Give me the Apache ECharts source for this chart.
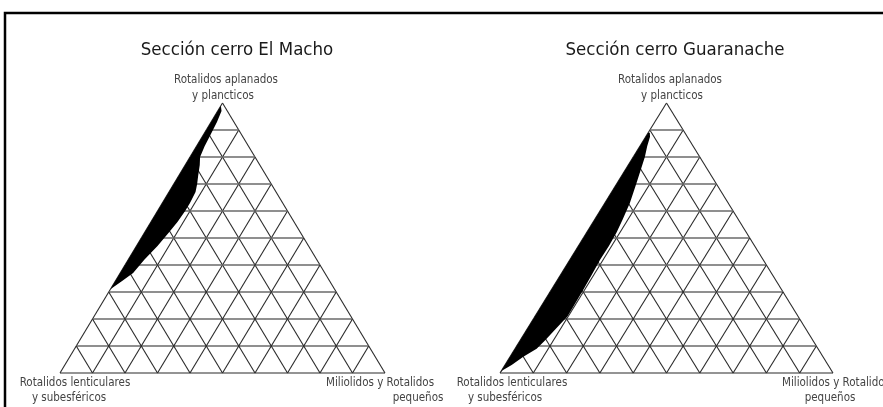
<!DOCTYPE html>
<html>
<head>
<meta charset="utf-8">
<script src="https://cdn.jsdelivr.net/npm/echarts@6/dist/echarts.min.js"></script>
<style>
  html, body { margin: 0; padding: 0; background: #fff; }
  #chart { width: 883px; height: 407px; }
</style>
</head>
<body>
<div id="chart"></div>
<script>
// ternary points are [A, B, C] in percent
// A = Rotalidos aplanados y plancticos (top)
// B = Rotalidos lenticulares y subesfericos (bottom left)
// C = Miliolidos y Rotalidos pequeños (bottom right)
var ticks = [0, 10, 20, 30, 40, 50, 60, 70, 80, 90];

var titles = ['Sección cerro El Macho', 'Sección cerro Guaranache'];

var machoArea = [
  [99, 1, 0], [31, 69, 0], [34, 64, 2], [37, 59, 4], [42, 53, 5],
  [47, 46.5, 6.5], [52, 40.5, 7.5], [56, 35.8, 8.2], [60, 31.5, 8.5],
  [63, 28.5, 8.5], [67, 24.8, 8.2], [70, 22.8, 7.2], [73, 21, 6],
  [77, 18.5, 4.5], [80, 16.9, 3.1], [84, 13.5, 2.5], [88, 9.8, 2.2],
  [93, 5.2, 1.8], [97, 1.8, 1.2]
];

var guaranacheArea = [
  [89, 11, 0], [0, 100, 0], [1, 98.7, 0.3], [3, 95, 2], [6, 90, 4],
  [9, 84.5, 6.5], [12, 80.5, 7.5], [16, 75.5, 8.5], [21, 69.2, 9.8],
  [26, 64.3, 9.7], [31, 59.4, 9.6], [36, 54.6, 9.4], [42, 48.9, 9.1],
  [47, 43.8, 9.2], [52, 39, 9], [57, 34.6, 8.4], [63, 29.5, 7.5],
  [67, 26.4, 6.6], [70, 24.1, 5.9], [75, 20.3, 4.7], [80, 16.5, 3.5],
  [84, 13.8, 2.2], [87.5, 11.2, 1.3], [89, 10.5, 0.5]
];

function toXY(p) {
  var s = p[0] + p[1] + p[2];
  var a = p[0] / s * 100, c = p[2] / s * 100;
  return [c + a / 2, a];
}

function gridLines() {
  var out = [];
  ticks.forEach(function (t) {
    var h1 = toXY([t, 100 - t, 0]), h2 = toXY([t, 0, 100 - t]);
    out.push({ value: [h1[0], h1[1], h2[0], h2[1]] });
    var c1 = toXY([0, 100 - t, t]), c2 = toXY([100 - t, 0, t]);
    out.push({ value: [c1[0], c1[1], c2[0], c2[1]] });
    var b1 = toXY([0, t, 100 - t]), b2 = toXY([100 - t, t, 0]);
    out.push({ value: [b1[0], b1[1], b2[0], b2[1]] });
  });
  return out;
}

function lineItem(params, api) {
  var p1 = api.coord([api.value(0), api.value(1)]);
  var p2 = api.coord([api.value(2), api.value(3)]);
  var horiz = Math.abs(p1[1] - p2[1]) < 0.5 && api.value(1) > 0;
  return {
    type: 'line',
    shape: { x1: p1[0], y1: p1[1], x2: p2[0], y2: p2[1] },
    style: { stroke: horiz ? '#6a6a6a' : '#2a2a2a', lineWidth: horiz ? 1.5 : 1.1 }
  };
}

function areaItem(points) {
  return function (params, api) {
    if (params.dataIndex !== 0) return null;
    var pts = points.map(function (p) { return api.coord(toXY(p)); });
    return { type: 'polygon', shape: { points: pts }, style: { fill: '#000' } };
  };
}

var font = '"Liberation Sans Narrow", "DejaVu Sans Condensed", sans-serif';
var lines = gridLines();

function label(text, x, y) {
  return {
    type: 'text', x: x, y: y,
    style: { text: text, fill: '#444', font: '11.5px ' + font, textAlign: 'center', textVerticalAlign: 'middle' }
  };
}

var chart = echarts.init(document.getElementById('chart'));
chart.setOption({
  animation: false,
  backgroundColor: '#fff',
  title: [
    { text: titles[0], left: 232, top: 36, textAlign: 'center',
      textStyle: { fontFamily: font, fontSize: 18.5, fontWeight: 'normal', color: '#1a1a1a' } },
    { text: titles[1], left: 670, top: 36, textAlign: 'center',
      textStyle: { fontFamily: font, fontSize: 18.5, fontWeight: 'normal', color: '#1a1a1a' } }
  ],
  grid: [
    { left: 60, right: 498, top: 103, bottom: 34 },
    { left: 500, right: 50, top: 103, bottom: 34 }
  ],
  xAxis: [
    { type: 'value', gridIndex: 0, min: 0, max: 100, show: false },
    { type: 'value', gridIndex: 1, min: 0, max: 100, show: false }
  ],
  yAxis: [
    { type: 'value', gridIndex: 0, min: 0, max: 100, show: false },
    { type: 'value', gridIndex: 1, min: 0, max: 100, show: false }
  ],
  series: [
    { type: 'custom', xAxisIndex: 0, yAxisIndex: 0, renderItem: lineItem, data: lines, silent: true },
    { type: 'custom', xAxisIndex: 1, yAxisIndex: 1, renderItem: lineItem, data: lines, silent: true },
    { type: 'custom', xAxisIndex: 0, yAxisIndex: 0, renderItem: areaItem(machoArea),
      data: machoArea.map(toXY), silent: true, z: 3 },
    { type: 'custom', xAxisIndex: 1, yAxisIndex: 1, renderItem: areaItem(guaranacheArea),
      data: guaranacheArea.map(toXY), silent: true, z: 3 }
  ],
  graphic: [
    { type: 'rect', shape: { x: 5, y: 13, width: 900, height: 420 },
      style: { fill: null, stroke: '#000', lineWidth: 2.5 } },
    label('Rotalidos aplanados', 226, 80),
    label('y plancticos', 223, 96),
    label('Rotalidos lenticulares', 75, 383),
    label('y subesféricos', 69, 398),
    label('Miliolidos y Rotalidos', 380, 383),
    label('pequeños', 418, 398),
    label('Rotalidos aplanados', 670, 80),
    label('y plancticos', 672, 96),
    label('Rotalidos lenticulares', 512, 383),
    label('y subesféricos', 505, 398),
    label('Miliolidos y Rotalidos', 836, 383),
    label('pequeños', 830, 398)
  ]
});
</script>
</body>
</html>
